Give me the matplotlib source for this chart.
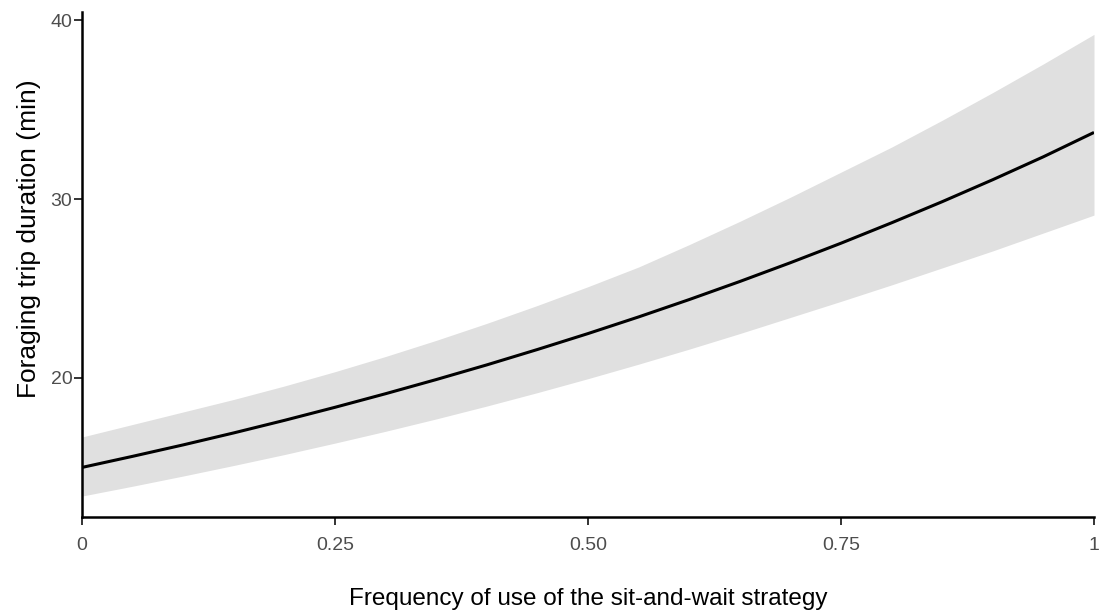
import matplotlib
matplotlib.use("Agg")
import matplotlib.pyplot as plt

plt.rcParams['font.family'] = ['Liberation Sans', 'DejaVu Sans']

# Predicted foraging trip duration with its confidence band
freq = [0.00, 0.05, 0.10, 0.15, 0.20, 0.25, 0.30, 0.35, 0.40, 0.45, 0.50,
        0.55, 0.60, 0.65, 0.70, 0.75, 0.80, 0.85, 0.90, 0.95, 1.00]
duration = [15.00, 15.62, 16.26, 16.93, 17.63, 18.36, 19.12, 19.91, 20.73,
            21.59, 22.48, 23.41, 24.38, 25.39, 26.44, 27.53, 28.67, 29.85,
            31.08, 32.36, 33.72]
upper = [16.70, 17.40, 18.10, 18.80, 19.55, 20.35, 21.20, 22.10, 23.05,
         24.05, 25.10, 26.20, 27.45, 28.75, 30.10, 31.50, 32.90, 34.40,
         35.95, 37.55, 39.20]
lower = [13.40, 13.95, 14.52, 15.11, 15.72, 16.36, 17.02, 17.71, 18.43,
         19.18, 19.96, 20.77, 21.61, 22.48, 23.38, 24.28, 25.20, 26.15,
         27.10, 28.10, 29.10]

x_ticks = [0, 0.25, 0.5, 0.75, 1]
x_tick_labels = ["0", "0.25", "0.50", "0.75", "1"]
y_ticks = [20, 30, 40]

fig = plt.figure(figsize=(11.07, 6.14), dpi=100)
ax = fig.add_axes([82 / 1107, 1 - 517 / 614, (1094 - 82) / 1107, (517 - 12) / 614])

ax.fill_between(freq, lower, upper, color="#e0e0e0", linewidth=0)
ax.plot(freq, duration, color="black", linewidth=2.2, solid_capstyle="butt")

ax.set_xlim(0, 1)
ax.set_ylim(12.23, 40.45)
ax.set_xticks(x_ticks)
ax.set_xticklabels(x_tick_labels)
ax.set_yticks(y_ticks)

for side in ("top", "right"):
    ax.spines[side].set_visible(False)
for side in ("left", "bottom"):
    ax.spines[side].set_linewidth(1.8)
    ax.spines[side].set_color("black")

ax.tick_params(axis="both", length=5.5, width=1.4, color="#333333",
               labelcolor="#4d4d4d", labelsize=14)
ax.tick_params(axis="x", pad=9.2)
ax.tick_params(axis="y", pad=1.5)

ax.set_xlabel("Frequency of use of the sit-and-wait strategy", fontsize=17.5,
              color="black", labelpad=24)
ax.set_ylabel("Foraging trip duration (min)", fontsize=19, color="black",
              labelpad=7)
ax.yaxis.label.set_y(0.552)

fig.savefig("out.png", dpi=100)
